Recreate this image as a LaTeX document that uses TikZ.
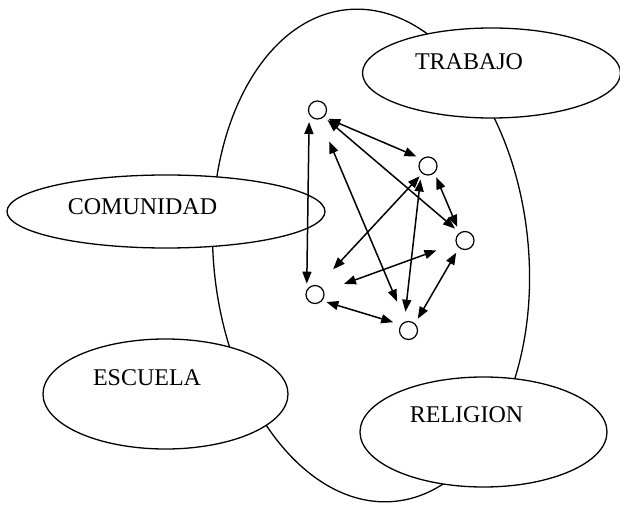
\documentclass[tikz,border=0pt]{standalone}
\usepackage{fontspec}
\setmainfont{Liberation Serif}
\usepackage{tikz}
\usetikzlibrary{shapes,arrows.meta}

\begin{document}
\begin{tikzpicture}[x=1pt, y=1pt,
        region/.style={draw, ellipse, fill=white, line width=1.3pt, inner sep=0pt},
        regiontext/.style={anchor=base, inner sep=0pt, font=\fontsize{24}{28}\selectfont},
        member/.style={draw, circle, line width=1.2pt, minimum size=18pt, inner sep=0pt},
        link/.style={line width=1.5pt, {Triangle[length=12pt,width=9pt]}-{Triangle[length=12pt,width=9pt]}}]

        \useasboundingbox (0,0) rectangle (620,506);

        % big ellipse, behind the others
        \node[draw, ellipse, line width=1.3pt, inner sep=0pt,
              minimum width=315pt, minimum height=494pt, rotate=5.5] (sociedad) at (371,250.5) {};

        % the four regions (white, they hide the big ellipse)
        \node[region, minimum width=258pt, minimum height=90pt]  (trabajo)   at (491.5,433) {};
        \node[region, minimum width=318pt, minimum height=73pt]  (comunidad) at (166,294.5) {};
        \node[region, minimum width=245pt, minimum height=110pt] (escuela)   at (165.5,112) {};
        \node[region, minimum width=247pt, minimum height=110pt] (religion)  at (483.5,74) {};

        % Text
        \node[regiontext] (trabajoText)   at (469,436)   {TRABAJO};
        \node[regiontext] (comunidadText) at (142.5,291) {COMUNIDAD};
        \node[regiontext] (escuelaText)   at (147,121)   {ESCUELA};
        \node[regiontext] (religionText)  at (466.5,84)  {RELIGION};

        % members of the network
        \node[member] (m1) at (317.5,396) {};
        \node[member] (m2) at (428,340) {};
        \node[member] (m3) at (465,265.5) {};
        \node[member] (m4) at (315,211.5) {};
        \node[member] (m5) at (408.5,175.5) {};

        % links: from/angle/shorten/to/angle/shorten
        \foreach \a/\aa/\sa/\b/\bb/\sb in {
            m1/-150/7.2/m4/150/6,
            m1/-47/4.6/m2/131/5.7,
            m1/-47/4.6/m3/124/6.1,
            m1/-76/24/m5/109/21.6,
            m2/-128/3.6/m4/71/22,
            m2/-135/6.7/m5/116/10.2,
            m2/-48/4.5/m3/124/6.1,
            m3/-163/20.6/m4/20/21.2,
            m3/-129/5.4/m5/47/5.4,
            m4/-41/4.3/m5/142/8.1}
        {
            \draw[link, shorten <=\sa pt, shorten >=\sb pt] (\a.\aa) -- (\b.\bb);
        }

\end{tikzpicture}
\end{document}
